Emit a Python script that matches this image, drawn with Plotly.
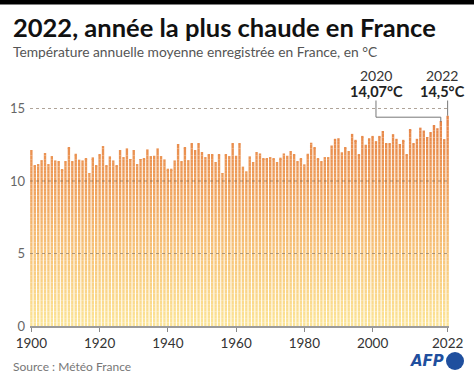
import numpy as np
import plotly.graph_objects as go

# ---------------- data ----------------
years = list(range(1900, 2023))
temps = [
    12.10, 11.06, 11.17, 11.44, 11.93, 11.17, 11.72, 11.42, 11.33, 10.80,  # 1900-1909
    11.35, 12.32, 11.35, 11.88, 11.47, 11.42, 11.56, 10.55, 11.63, 11.08,  # 1910-1919
    11.83, 12.41, 11.08, 11.70, 11.42, 11.10, 12.09, 11.65, 12.25, 11.51,  # 1920-1929
    12.13, 11.17, 11.51, 11.56, 12.18, 11.72, 11.74, 12.25, 11.72, 11.49,  # 1930-1939
    10.85, 10.85, 11.42, 12.52, 11.38, 12.34, 11.44, 12.57, 12.09, 12.61,  # 1940-1949
    12.00, 11.65, 11.83, 11.83, 11.31, 11.86, 10.55, 11.83, 11.72, 12.59,  # 1950-1959
    11.74, 12.59, 10.99, 10.67, 11.70, 11.26, 12.00, 11.90, 11.56, 11.56,  # 1960-1969
    11.65, 11.54, 11.31, 11.61, 11.90, 11.74, 12.06, 11.86, 11.35, 11.58,  # 1970-1979
    11.15, 11.88, 12.64, 12.34, 11.56, 11.35, 11.65, 11.65, 12.45, 12.91,  # 1980-1989
    12.95, 11.98, 12.32, 12.05, 13.25, 12.84, 11.82, 13.11, 12.50, 12.95,  # 1990-1999
    13.11, 12.75, 13.11, 13.45, 12.57, 12.57, 13.23, 12.91, 12.55, 12.84,  # 2000-2009
    11.82, 13.57, 12.61, 12.91, 13.68, 13.48, 13.02, 13.34, 13.86, 13.64,  # 2010-2019
    14.07, 12.89, 14.50,                                                  # 2020-2022
]
assert len(years) == len(temps)

x_tick_vals = [1900, 1920, 1940, 1960, 1980, 2000, 2022]
y_tick_vals = [0, 5, 10, 15]

title = "<b>2022, année la plus chaude en France</b>"
subtitle = "Température annuelle moyenne enregistrée en France, en °C"
source = "Source : Météo France"
highlights = [(2020, "2020", "14,07°C"), (2022, "2022", "14,5°C")]

# ---------------- geometry helpers ----------------
W, H = 474, 380
ML, MR, MT, MB = 30, 25, 94, 54
PW, PH = W - ML - MR, H - MT - MB


def px(xpix):
    return (xpix - ML) / PW


def py(ypix):
    return (H - MB - ypix) / PH


# ---------------- gradient via stacked bands ----------------
stops = [(0, (252, 229, 151)), (5, (247, 196, 121)), (10, (238, 158, 90)), (14.5, (229, 130, 70))]


def color_at(v):
    for (a, ca), (b, cb) in zip(stops[:-1], stops[1:]):
        if v <= b:
            t = (v - a) / (b - a)
            c = [round(ca[i] + (cb[i] - ca[i]) * t) for i in range(3)]
            return f"rgb({c[0]},{c[1]},{c[2]})"
    c = stops[-1][1]
    return f"rgb({c[0]},{c[1]},{c[2]})"


vals = np.array(temps)
step = 0.25
fig = go.Figure()
for lo in np.arange(0, 15, step):
    seg = np.clip(vals - lo, 0, step)
    if seg.max() <= 0:
        continue
    fig.add_trace(go.Bar(
        x=years, y=seg, base=[lo] * len(years),
        marker=dict(color=color_at(lo + step / 2), line=dict(width=0)),
        hoverinfo="skip", showlegend=False,
    ))

font_main = "Lato"

# gridlines (dotted, above bars)
shapes = []
for yv in y_tick_vals[1:]:
    shapes.append(dict(type="line", xref="paper", yref="y", x0=0, x1=1, y0=yv, y1=yv,
                       line=dict(color="rgba(110,90,70,0.55)", width=1, dash="dot"), layer="above"))

# top black band
shapes.append(dict(type="rect", xref="paper", yref="paper", x0=px(-5), x1=px(W + 5),
                   y0=py(4.5), y1=py(-10), fillcolor="#000000", line=dict(width=0)))

# connector lines
lab_x = {2020: 2001.0, 2022: 2022}
top_y = 15.55
elbow_y = 14.4
for yr, _, _ in highlights:
    v = temps[years.index(yr)]
    if yr == 2020:
        path = f"M {lab_x[yr]},{top_y} L {lab_x[yr]},{elbow_y} L {yr},{elbow_y} L {yr},{v}"
    else:
        path = f"M {yr},{top_y} L {yr},{v}"
    shapes.append(dict(type="path", xref="x", yref="y", path=path,
                       line=dict(color="#777777", width=1)))

# AFP logo circle
shapes.append(dict(type="circle", xref="paper", yref="paper",
                   x0=px(446), x1=px(464), y0=py(370), y1=py(352),
                   fillcolor="#1f4f9e", line=dict(width=0)))

annotations = [
    dict(text=title, xref="paper", yref="paper", x=px(11), y=py(27), xanchor="left", yanchor="middle",
         showarrow=False, font=dict(family=font_main, size=25.5, color="#111111")),
    dict(text=subtitle, xref="paper", yref="paper", x=px(11), y=py(51), xanchor="left", yanchor="middle",
         showarrow=False, font=dict(family=font_main, size=13.8, color="#555555")),
    dict(text=source, xref="paper", yref="paper", x=px(11), y=py(366), xanchor="left", yanchor="middle",
         showarrow=False, font=dict(family=font_main, size=12, color="#777777")),
    dict(text="<b><i>AFP</i></b>", xref="paper", yref="paper", x=px(446), y=py(361), xanchor="right",
         yanchor="middle", showarrow=False, font=dict(family="DejaVu Sans", size=15, color="#1f4f9e")),
]
lab_px = {2020: 376, 2022: 442}
for yr, ylab, tlab in highlights:
    annotations.append(dict(text=ylab, xref="paper", yref="paper", x=px(lab_px[yr]), y=py(75.5),
                            xanchor="center", yanchor="middle", showarrow=False,
                            font=dict(family=font_main, size=14, color="#333333")))
    annotations.append(dict(text=f"<b>{tlab}</b>", xref="paper", yref="paper", x=px(lab_px[yr]), y=py(91.5),
                            xanchor="center", yanchor="middle", showarrow=False,
                            font=dict(family=font_main, size=14.5, color="#222222")))

fig.update_layout(
    width=W, height=H,
    margin=dict(l=ML, r=MR, t=MT, b=MB, pad=0, autoexpand=False),
    paper_bgcolor="white", plot_bgcolor="white",
    barmode="overlay", bargap=0.3,
    shapes=shapes, annotations=annotations,
    showlegend=False,
    xaxis=dict(range=[1899.6, 2022.4], tickvals=x_tick_vals, ticktext=[str(v) for v in x_tick_vals],
               automargin=False,
               showgrid=False, zeroline=False, showline=True, linecolor="#9b9b9b", linewidth=2,
               ticks="outside", ticklen=4, tickcolor="#8a8a8a", tickwidth=1,
               tickfont=dict(family=font_main, size=13.5, color="#333333")),
    yaxis=dict(range=[0, 16], tickvals=y_tick_vals, showgrid=False, zeroline=False, showline=False,
               automargin=False, ticks="", ticklabelstandoff=4,
               tickfont=dict(family=font_main, size=13, color="#666666")),
)

fig.write_html("out.html", config={"displayModeBar": False},
               post_script="document.body.style.margin='0px';")
